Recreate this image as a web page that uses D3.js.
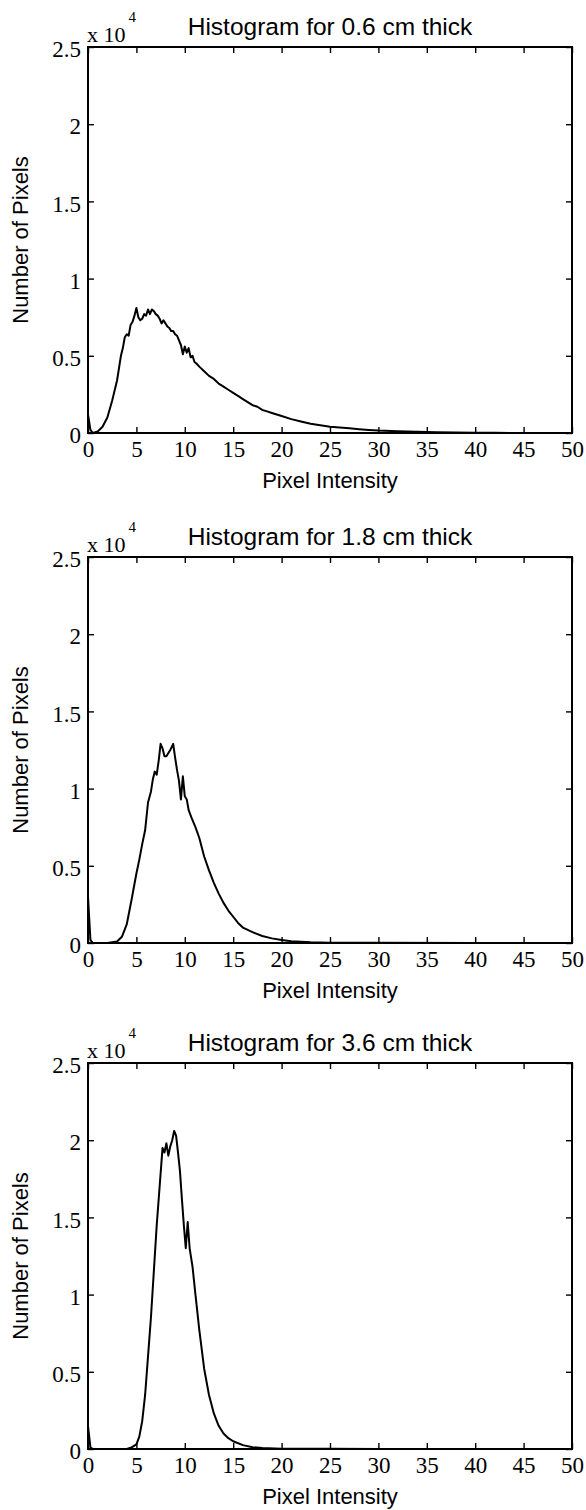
<!DOCTYPE html>
<html>
<head>
<meta charset="utf-8">
<script src="https://cdn.jsdelivr.net/npm/d3@7"></script>
<style>
  body { margin: 0; background: #fff; }
  svg { display: block; }
  .tick-label { font-family: "Liberation Serif", "Times New Roman", serif; font-size: 23px; fill: #000; }
  .sans { font-family: "Liberation Sans", Arial, sans-serif; fill: #000; }
</style>
</head>
<body>
<svg id="chart" width="586" height="1510"></svg>
<script>
// chart data (counts are in units of 10^4)
var titles = ['Histogram for 0.6 cm thick', 'Histogram for 1.8 cm thick', 'Histogram for 3.6 cm thick'];
var xTicks = [0, 5, 10, 15, 20, 25, 30, 35, 40, 45, 50];
var yTicks = [0, 0.5, 1, 1.5, 2, 2.5];
var yTickLabels = ['0', '0.5', '1', '1.5', '2', '2.5'];

var intensity06 = [0, 0.25, 0.5, 1, 1.5, 2, 2.5, 3, 3.4, 3.6, 3.8, 4, 4.2, 4.4, 4.6, 4.8, 5, 5.2, 5.4, 5.6, 5.8, 6, 6.2, 6.4, 6.6, 6.8, 7, 7.2, 7.4, 7.6, 7.8, 8, 8.2, 8.4, 8.6, 8.8, 9, 9.2, 9.4, 9.6, 9.8, 10, 10.2, 10.4, 10.6, 10.8, 11, 11.2, 11.5, 12, 12.5, 13, 13.5, 14, 14.5, 15, 15.5, 16, 16.5, 17, 17.5, 18, 18.5, 19, 19.5, 20, 21, 22, 23, 24, 25, 26, 27, 28, 29, 30, 32, 34, 36, 38, 40, 42, 45, 50];
var count06 = [0.12, 0.02, 0, 0.01, 0.04, 0.1, 0.21, 0.34, 0.5, 0.55, 0.62, 0.64, 0.63, 0.7, 0.72, 0.76, 0.81, 0.75, 0.73, 0.74, 0.77, 0.76, 0.8, 0.77, 0.8, 0.79, 0.77, 0.76, 0.74, 0.71, 0.73, 0.71, 0.69, 0.68, 0.66, 0.66, 0.64, 0.63, 0.6, 0.57, 0.51, 0.56, 0.52, 0.55, 0.49, 0.5, 0.46, 0.45, 0.43, 0.4, 0.37, 0.35, 0.32, 0.3, 0.28, 0.26, 0.24, 0.22, 0.2, 0.18, 0.17, 0.15, 0.14, 0.13, 0.12, 0.11, 0.09, 0.075, 0.06, 0.05, 0.04, 0.035, 0.03, 0.025, 0.02, 0.016, 0.012, 0.008, 0.005, 0.003, 0.002, 0.001, 0.0005, 0.0002];

var intensity18 = [0, 0.25, 0.5, 1, 2, 3, 3.5, 4, 4.5, 5, 5.3, 5.6, 5.9, 6.2, 6.5, 6.7, 6.9, 7.1, 7.3, 7.5, 7.7, 7.9, 8.1, 8.3, 8.5, 8.8, 9, 9.2, 9.4, 9.6, 9.8, 10, 10.2, 10.4, 10.7, 11.1, 11.5, 12, 12.5, 13, 13.5, 14, 14.5, 15, 15.5, 16, 17, 18, 19, 20, 21, 22, 23, 25, 30, 40, 50];
var count18 = [0.3, 0.02, 0, 0, 0, 0.01, 0.04, 0.12, 0.28, 0.45, 0.54, 0.64, 0.73, 0.91, 0.98, 1.06, 1.11, 1.09, 1.18, 1.29, 1.26, 1.21, 1.21, 1.23, 1.25, 1.29, 1.2, 1.12, 1.05, 0.93, 1.08, 0.95, 0.93, 0.86, 0.81, 0.75, 0.68, 0.56, 0.47, 0.39, 0.32, 0.26, 0.21, 0.17, 0.13, 0.1, 0.07, 0.045, 0.03, 0.02, 0.012, 0.008, 0.005, 0.002, 0.001, 0, 0];

var intensity36 = [0, 0.25, 0.5, 1, 2, 3, 4, 4.5, 5, 5.3, 5.6, 5.9, 6.2, 6.5, 6.8, 7.1, 7.4, 7.7, 7.9, 8.1, 8.3, 8.5, 8.7, 8.9, 9.1, 9.3, 9.5, 9.7, 9.9, 10.1, 10.3, 10.5, 10.8, 11.1, 11.5, 12, 12.5, 13, 13.5, 14, 14.5, 15, 16, 17, 18, 20, 25, 30, 40, 50];
var count36 = [0.15, 0.01, 0, 0, 0, 0, 0, 0.01, 0.03, 0.08, 0.18, 0.35, 0.6, 0.85, 1.15, 1.45, 1.7, 1.95, 1.92, 1.98, 1.9, 1.96, 2.0, 2.06, 2.03, 1.92, 1.8, 1.62, 1.45, 1.3, 1.47, 1.3, 1.18, 1.0, 0.77, 0.52, 0.35, 0.23, 0.15, 0.1, 0.07, 0.05, 0.025, 0.012, 0.006, 0.002, 0.001, 0, 0, 0];

var panels = [
  {title: titles[0], x: intensity06, y: count06},
  {title: titles[1], x: intensity18, y: count18},
  {title: titles[2], x: intensity36, y: count36}
];

var margin = {left: 88, right: 14};
var plotWidth = 586 - margin.left - margin.right;
var plotHeight = 386;
var panelTops = [47, 557, 1063];
var tickLen = 6;

var svg = d3.select('#chart');

var x = d3.scaleLinear().domain([0, 50]).range([0, plotWidth]);
var y = d3.scaleLinear().domain([0, 2.5]).range([plotHeight, 0]);

var line = d3.line().x(d => x(d[0])).y(d => y(d[1]));

panels.forEach((p, i) => {
  var g = svg.append('g')
      .attr('transform', 'translate(' + margin.left + ',' + panelTops[i] + ')');

  // bottom axis with labels, ticks point inward like matlab
  g.append('g')
      .attr('transform', 'translate(0,' + plotHeight + ')')
      .call(d3.axisBottom(x).tickValues(xTicks).tickSizeInner(-tickLen).tickSizeOuter(0).tickPadding(8))
      .call(a => a.select('.domain').remove())
      .call(a => a.selectAll('text').attr('class', 'tick-label').attr('font-size', null).attr('font-family', null));

  g.append('g')
      .call(d3.axisTop(x).tickValues(xTicks).tickSizeInner(-tickLen).tickSizeOuter(0).tickFormat(''))
      .call(a => a.select('.domain').remove());

  g.append('g')
      .call(d3.axisLeft(y).tickValues(yTicks).tickSizeInner(-tickLen).tickSizeOuter(0).tickPadding(7)
        .tickFormat((d, k) => yTickLabels[k]))
      .call(a => a.select('.domain').remove())
      .call(a => a.selectAll('text').attr('class', 'tick-label').attr('font-size', null).attr('font-family', null).attr('dy', '0.42em'));

  g.append('g')
      .attr('transform', 'translate(' + plotWidth + ',0)')
      .call(d3.axisRight(y).tickValues(yTicks).tickSizeInner(-tickLen).tickSizeOuter(0).tickFormat(''))
      .call(a => a.select('.domain').remove());

  g.selectAll('.tick line').attr('stroke', '#000').attr('stroke-width', 1.4);

  g.append('rect')
      .attr('width', plotWidth)
      .attr('height', plotHeight)
      .attr('fill', 'none')
      .attr('stroke', '#000')
      .attr('stroke-width', 2);

  g.append('path')
      .datum(p.x.map((v, k) => [v, p.y[k]]))
      .attr('fill', 'none')
      .attr('stroke', '#000')
      .attr('stroke-width', 2)
      .attr('stroke-linejoin', 'round')
      .attr('d', line);

  // exponent label
  var ex = g.append('text')
      .attr('class', 'tick-label')
      .attr('x', -1)
      .attr('y', -5)
      .style('font-size', '22px');
  ex.append('tspan').text('x 10');
  ex.append('tspan').attr('dy', -20).attr('dx', 3).style('font-size', '15px').text('4');

  g.append('text')
      .attr('class', 'sans')
      .attr('x', plotWidth / 2)
      .attr('y', -12)
      .attr('text-anchor', 'middle')
      .style('font-size', '24.5px')
      .text(p.title);

  g.append('text')
      .attr('class', 'sans')
      .attr('x', plotWidth / 2)
      .attr('y', plotHeight + 55)
      .attr('text-anchor', 'middle')
      .style('font-size', '22px')
      .text('Pixel Intensity');

  g.append('text')
      .attr('class', 'sans')
      .attr('transform', 'translate(' + (-60) + ',' + (plotHeight / 2) + ') rotate(-90)')
      .attr('text-anchor', 'middle')
      .style('font-size', '22px')
      .text('Number of Pixels');
});
</script>
</body>
</html>
